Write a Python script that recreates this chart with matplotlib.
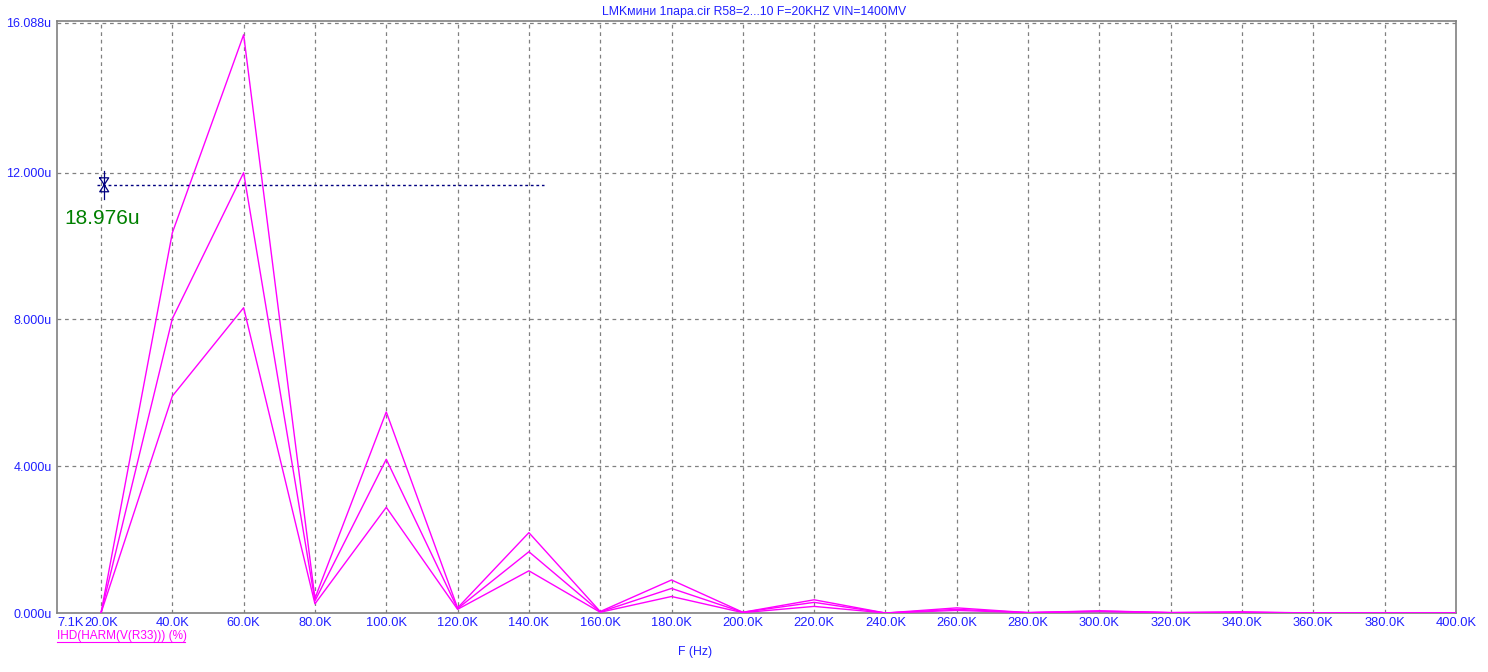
import numpy as np
import matplotlib
matplotlib.use("Agg")
from matplotlib import pyplot as plt

plt.rcParams['font.family'] = ['Liberation Sans', 'DejaVu Sans']

# harmonic frequencies, kHz
freq = [20, 40, 60, 80, 100, 120, 140, 160, 180, 200, 220, 240, 260, 280, 300, 320, 340, 360, 380, 400]
# IHD values (u) for the three R58 steps
ihd_hi = [0, 10.36, 15.76, 0.40, 5.48, 0.14, 2.19, 0.04, 0.90, 0.02, 0.36, 0.0, 0.14, 0.01, 0.06, 0.01, 0.03, 0.0, 0.0, 0.0]
ihd_mid = [0, 8.02, 12.00, 0.33, 4.19, 0.12, 1.67, 0.03, 0.67, 0.02, 0.29, 0.0, 0.10, 0.01, 0.05, 0.01, 0.02, 0.0, 0.0, 0.0]
ihd_lo = [0, 5.91, 8.32, 0.25, 2.88, 0.10, 1.15, 0.02, 0.45, 0.01, 0.18, 0.0, 0.07, 0.01, 0.04, 0.01, 0.015, 0.0, 0.0, 0.0]

xmin = 7.66
xticks = [xmin] + list(range(20, 401, 20))
xlabels = ["7.1K"] + ["%.1fK" % v for v in range(20, 401, 20)]
yticks = [0, 4, 8, 12, 16.088]
ylabels = ["0.000u", "4.000u", "8.000u", "12.000u", "16.088u"]

cursor_x = 20.9
cursor_y = 11.67
cursor_start = 18.9
cursor_end = 144.2

blue = "#2020ff"
grey = "#808080"

fig = plt.figure(figsize=(14.88, 6.72), dpi=100)
ax = fig.add_axes([57/1488, 1 - 613/672, (1456-57)/1488, (613-21)/672])

for s in [ihd_hi, ihd_mid, ihd_lo]:
    ax.plot(freq, s, color="#ff00ff", lw=1.0, zorder=3)

ax.set_xlim(xmin, 400)
ax.set_ylim(0, 16.134)

ax.set_xticks(xticks)
ax.set_xticklabels(xlabels)
ax.set_yticks(yticks)
ax.set_yticklabels(ylabels)
ax.tick_params(length=0, colors=blue)
ax.tick_params(axis='x', pad=3, labelsize=9.3)
ax.tick_params(axis='y', pad=4, labelsize=9)
ax.get_xticklabels()[0].set_ha('left')

for v in xticks[1:-1]:
    ax.axvline(v, color=grey, lw=0.9, ls=(0, (3, 3)), zorder=1)
for v in yticks[1:]:
    ax.axhline(v, color=grey, lw=0.9, ls=(0, (3, 3)), zorder=1)

for sp in ax.spines.values():
    sp.set_color(grey)
    sp.set_linewidth(1.2)

# cursor
ax.plot([cursor_start, cursor_end], [cursor_y, cursor_y], color="#000080", lw=1.0, ls=(0, (2, 2)), zorder=4)
ax.plot([cursor_x, cursor_x], [cursor_y - 0.38, cursor_y + 0.38], color="#000080", lw=0.9, zorder=5)
hx = [cursor_x - 1.26, cursor_x + 1.26, cursor_x, cursor_x - 1.26, cursor_x + 1.26, cursor_x, cursor_x - 1.26]
hy = [cursor_y + 0.19, cursor_y + 0.19, cursor_y, cursor_y - 0.19, cursor_y - 0.19, cursor_y, cursor_y + 0.19]
ax.plot(hx, hy, color="#000080", lw=0.9, zorder=5)
ax.text(9.6, cursor_y - 0.93, "18.976u", color="#008000", fontsize=15, va='center', ha='left')

fig.text(754/1488, 1 - 12/672, "LMKмини 1пара.cir R58=2...10 F=20KHZ VIN=1400MV",
         color=blue, fontsize=8.8, ha='center', va='center')
fig.text(57/1488, 1 - 636/672, "IHD(HARM(V(R33))) (%)", color="#ff00ff",
         fontsize=8.5, ha='left', va='center')
fig.add_artist(plt.Line2D([57/1488, 185/1488], [1 - 642/672, 1 - 642/672], color="#ff00ff", lw=0.8))
fig.text(695/1488, 1 - 652/672, "F (Hz)", color=blue, fontsize=8.8, ha='center', va='center')

fig.savefig("out.png", dpi=100)
